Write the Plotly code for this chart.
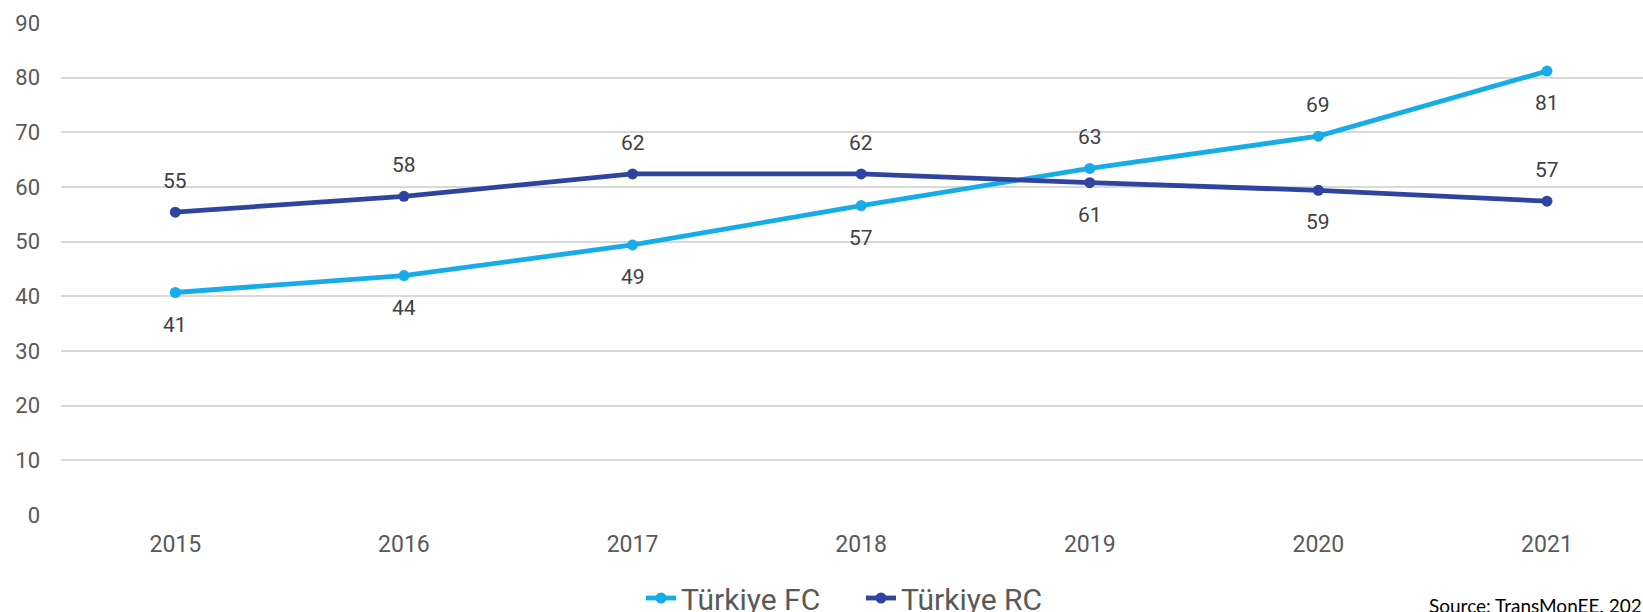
import plotly.graph_objects as go

years = ["2015", "2016", "2017", "2018", "2019", "2020", "2021"]
fc_values = [40.7, 43.8, 49.4, 56.6, 63.4, 69.3, 81.2]
rc_values = [55.4, 58.3, 62.4, 62.4, 60.8, 59.4, 57.4]
fc_label_side = ["below", "below", "below", "below", "above", "above", "below"]
rc_label_side = ["above", "above", "above", "above", "below", "below", "above"]
y_ticks = [0, 10, 20, 30, 40, 50, 60, 70, 80, 90]
source_text = "Source: TransMonEE, 2022"

FC_COLOR = "#17ACE8"
RC_COLOR = "#2F449E"
LABEL_COLOR = "#404040"
TICK_COLOR = "#595959"

W, H = 1643, 612
L, R, T, B = 61, 0, 23, 97

fig = go.Figure()
fig.add_trace(go.Scatter(
    x=years, y=fc_values, name="Türkiye FC", mode="lines+markers",
    line=dict(color=FC_COLOR, width=4.8), marker=dict(color=FC_COLOR, size=11),
))
fig.add_trace(go.Scatter(
    x=years, y=rc_values, name="Türkiye RC", mode="lines+markers",
    line=dict(color=RC_COLOR, width=4.8), marker=dict(color=RC_COLOR, size=11),
))

for vals, sides in ((fc_values, fc_label_side), (rc_values, rc_label_side)):
    for i, (v, s) in enumerate(zip(vals, sides)):
        fig.add_annotation(
            x=i, y=v, xref="x", yref="y", text=f"{v:.0f}", showarrow=False,
            yshift=31 if s == "above" else -32,
            font=dict(family="Roboto", size=21, color=LABEL_COLOR),
        )

plot_w = W - L - R
plot_h = H - T - B
fig.add_annotation(
    x=(1427 - L) / plot_w, y=-(605 - (H - B)) / plot_h,
    xref="paper", yref="paper", text=source_text, showarrow=False,
    xanchor="left", yanchor="middle",
    font=dict(family="Lato", size=19, color="#000000"),
)

fig.update_layout(
    width=W, height=H,
    margin=dict(l=L, r=R, t=T, b=B, autoexpand=False),
    plot_bgcolor="white", paper_bgcolor="white",
    showlegend=True,
    legend=dict(
        orientation="h", x=0.5 + 9 / plot_w, xanchor="center",
        y=-(598 - (H - B)) / plot_h, yanchor="middle",
        font=dict(family="Roboto", size=30, color=TICK_COLOR),
        entrywidth=175, entrywidthmode="pixels", traceorder="normal",
    ),
    xaxis=dict(
        type="category", range=[-0.5, 6.42], showgrid=False, zeroline=False,
        showline=False, ticks="", automargin=False,
        tickfont=dict(family="Roboto", size=23, color=TICK_COLOR),
        ticklabelstandoff=13,
    ),
    yaxis=dict(
        range=[0, 90], tickvals=y_ticks, showgrid=True, gridcolor="#D9D9D9", gridwidth=1.5,
        zeroline=False, showline=False, ticks="", automargin=False,
        tickfont=dict(family="Roboto", size=22, color=TICK_COLOR),
        ticklabelstandoff=20,
    ),
)

fig.write_html("out.html", config={"displayModeBar": False},
               post_script="document.body.style.margin='0';")
